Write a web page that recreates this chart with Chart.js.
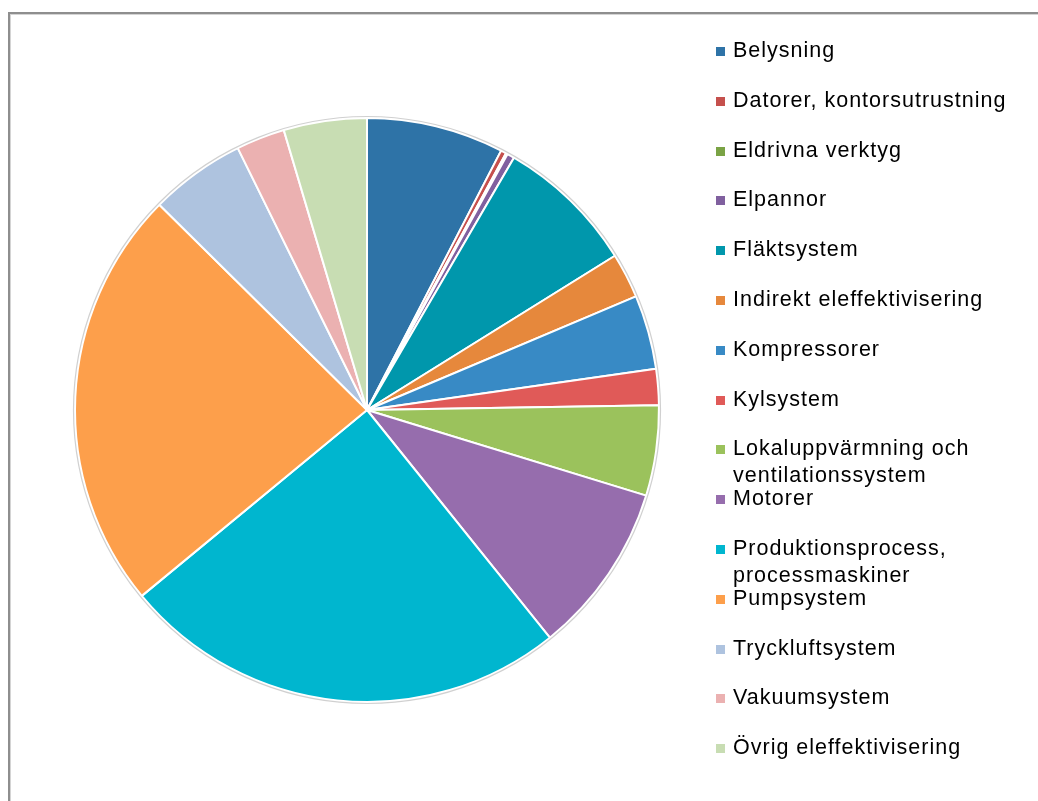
<!DOCTYPE html>
<html lang="sv">
<head>
<meta charset="utf-8">
<title>Eleffektivisering per område</title>
<script src="https://cdn.jsdelivr.net/npm/chart.js@4.4.1/dist/chart.umd.min.js"></script>
<style>
  html, body { margin: 0; padding: 0; background: #ffffff; }
  #wrap { position: relative; width: 1038px; height: 801px; overflow: hidden; }
  #frame {
    position: absolute; left: 8px; top: 12px; width: 1200px; height: 1000px;
    border-top: 2px solid #8e8e8e; border-left: 2px solid #8e8e8e;
    box-shadow: inset 1px 1px 0 #d4d4d4;
    box-sizing: border-box;
  }
  #pie { position: absolute; left: 0; top: 0; }
  #legend { position: absolute; left: 0; top: 0; width: 1038px; height: 801px; }
  .item {
    position: absolute; left: 733px;
    font-family: "Liberation Sans", Arial, sans-serif;
    font-size: 21.5px; line-height: 26.5px; letter-spacing: 1px;
    color: #000; white-space: nowrap;
  }
  .swatch { position: absolute; width: 9px; height: 9px; left: 716px; }
</style>
</head>
<body>
<div id="wrap">
  <div id="frame"></div>
  <canvas id="pie" width="1038" height="801"></canvas>
  <div id="legend"></div>
</div>
<script>
// Andel av eleffektiviseringen per område (%), medurs från klockan tolv
const categories = [
  'Belysning',
  'Datorer, kontorsutrustning',
  'Eldrivna verktyg',
  'Elpannor',
  'Fläktsystem',
  'Indirekt eleffektivisering',
  'Kompressorer',
  'Kylsystem',
  ['Lokaluppvärmning och', 'ventilationssystem'],
  'Motorer',
  ['Produktionsprocess,', 'processmaskiner'],
  'Pumpsystem',
  'Tryckluftsystem',
  'Vakuumsystem',
  'Övrig eleffektivisering'
];
const shares = [7.6, 0.3, 0.1, 0.4, 7.75, 2.5, 4.1, 2.0, 5.0, 9.5, 24.8, 23.4, 5.3, 2.7, 4.6];
const sliceColors = [
  '#2e73a7', '#c5504d', '#7aa345', '#80609f', '#0097ac',
  '#e6883c', '#388ac5', '#e05a58', '#9bc25c', '#966dad',
  '#00b6cf', '#fd9f4b', '#aec3df', '#ebb1b1', '#c8ddb3'
];

// Faint grey rim around the pie
const rimPlugin = {
  id: 'rim',
  afterDatasetsDraw(chart) {
    const arc = chart.getDatasetMeta(0).data[0];
    if (!arc) return;
    const ctx = chart.ctx;
    ctx.save();
    ctx.beginPath();
    ctx.arc(arc.x, arc.y, arc.outerRadius + 1.5, 0, Math.PI * 2);
    ctx.strokeStyle = 'rgba(150,150,150,0.45)';
    ctx.lineWidth = 1.2;
    ctx.stroke();
    ctx.restore();
  }
};

const chart = new Chart(document.getElementById('pie'), {
  type: 'pie',
  data: {
    labels: categories,
    datasets: [{
      data: shares,
      backgroundColor: sliceColors,
      borderColor: '#ffffff',
      borderWidth: 2
    }]
  },
  options: {
    responsive: false,
    animation: false,
    layout: { padding: { left: 74, top: 117, right: 378, bottom: 98 } },
    plugins: {
      legend: { display: false },
      tooltip: { enabled: false }
    }
  },
  plugins: [rimPlugin]
});

// Legend built from the chart's own labels and colours
const legendBox = document.getElementById('legend');
const firstTop = 37;
const step = 49.8;
chart.data.labels.forEach((label, i) => {
  const top = firstTop + i * step;
  const sw = document.createElement('div');
  sw.className = 'swatch';
  sw.style.top = (top + 10) + 'px';
  sw.style.background = chart.data.datasets[0].backgroundColor[i];
  legendBox.appendChild(sw);
  const txt = document.createElement('div');
  txt.className = 'item';
  txt.style.top = top + 'px';
  const lines = Array.isArray(label) ? label : [label];
  lines.forEach((ln, k) => {
    if (k) txt.appendChild(document.createElement('br'));
    txt.appendChild(document.createTextNode(ln));
  });
  legendBox.appendChild(txt);
});
</script>
</body>
</html>
